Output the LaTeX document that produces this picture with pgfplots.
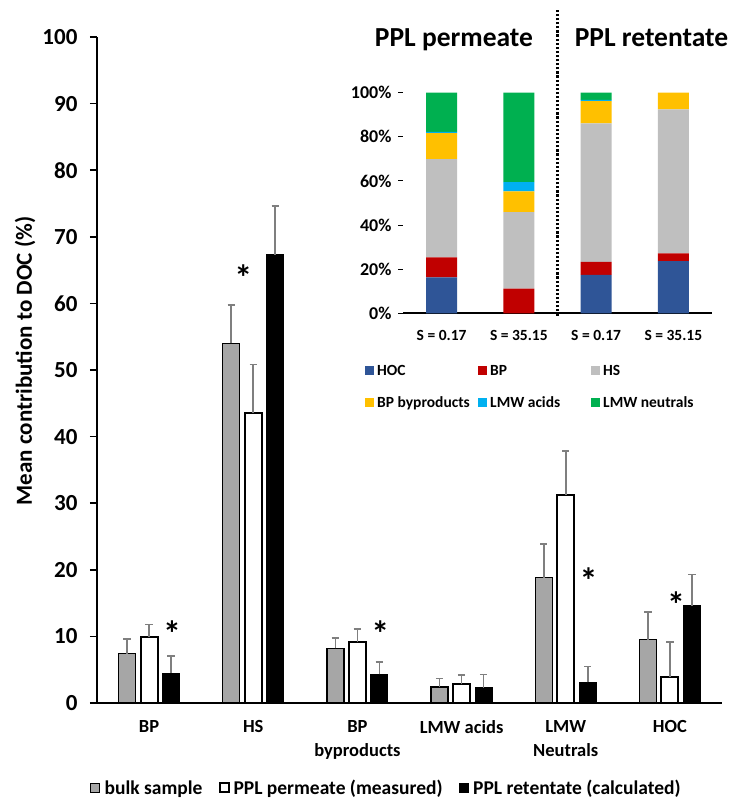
\documentclass[border=0pt]{standalone}
\usepackage{pgfplots}
\pgfplotsset{compat=1.18}
\usepackage{fontspec}
\setmainfont{Carlito}
\definecolor{bulkgray}{HTML}{A6A6A6}
\definecolor{errgray}{HTML}{7F7F7F}
\definecolor{cHOC}{HTML}{2F5597}
\definecolor{cBP}{HTML}{C00000}
\definecolor{cHS}{HTML}{BFBFBF}
\definecolor{cBPB}{HTML}{FFC000}
\definecolor{cLA}{HTML}{00B0F0}
\definecolor{cLN}{HTML}{00B050}
\pgfplotstableread{
x y e
0 7.4 2.2
1 54.0 5.8
2 8.2 1.6
3 2.4 1.3
4 18.8 5.1
5 9.5 4.2
}\bulk
\pgfplotstableread{
x y e
0 9.9 1.9
1 43.6 7.2
2 9.2 1.9
3 2.8 1.4
4 31.2 6.6
5 3.9 5.3
}\perm
\pgfplotstableread{
x y e
0 4.5 2.6
1 67.3 7.3
2 4.3 1.9
3 2.3 2.0
4 3.1 2.4
5 14.6 4.7
}\ret
\pgfplotsset{errs/.style={error bars/.cd, y dir=plus, y explicit,
  error bar style={line width=1.6pt, errgray},
  error mark options={rotate=90, mark size=3.7pt, line width=1.6pt, errgray}}}
\begin{document}
\begin{tikzpicture}[x=1pt,y=1pt]
\useasboundingbox (0,0) rectangle (736,798);
% main chart
\begin{axis}[at={(97pt,95pt)}, anchor=south west, scale only axis,
  width=625pt, height=666pt,
  xmin=-0.5, xmax=5.5, ymin=0, ymax=100,
  ybar=5pt, bar width=17pt,
  axis lines=left, axis line style={-, line width=2pt, black},
  ytick={0,10,...,100}, xtick={0,...,5},
  xticklabels={BP,HS,{BP\\byproducts},LMW acids,{LMW\\Neutrals},HOC},
  xtick style={draw=none},
  ytick style={line width=1.6pt, black},
  tick align=outside, major tick length=7pt,
  /pgf/number format/assume math mode=true,
  yticklabel style={font=\fontsize{23}{23}\selectfont\bfseries, xshift=-9pt},
  xticklabel style={font=\fontsize{18.5}{24}\selectfont\bfseries, align=center, yshift=-7pt},
  ylabel={Mean contribution to DOC (\%)},
  ylabel style={font=\fontsize{23}{23}\selectfont\bfseries, at={(axis description cs:-0.1152,0.5135)}, anchor=center, rotate=0},
  legend columns=3,
  legend style={at={(0.463,-0.1276)}, anchor=center, draw=none, inner sep=0pt,
    font=\fontsize{19.5}{20}\selectfont\bfseries,
    nodes={inner sep=2pt},
    /tikz/every even column/.append style={column sep=14pt}},
  legend image code/.code={\draw[#1] (0pt,-4.5pt) rectangle (9pt,4.5pt); \path[draw=none, fill=none] (0pt,0pt) -- (12pt,0pt);},
  clip=false,
]
\addplot[fill=bulkgray, draw=black, line width=1.2pt, errs] table[x=x, y=y, y error=e]{\bulk};
\addlegendentry{bulk sample}
\addplot[fill=white, draw=black, line width=2pt, errs] table[x=x, y=y, y error=e]{\perm};
\addlegendentry{PPL permeate (measured)}
\addplot[fill=black, draw=black, line width=1pt, errs] table[x=x, y=y, y error=e]{\ret};
\addlegendentry{PPL retentate (calculated)}
\node[font=\fontsize{36}{36}\selectfont\bfseries, yshift=-7pt] at (axis cs:0.22,11.4) {*};
\node[font=\fontsize{36}{36}\selectfont\bfseries, yshift=-7pt] at (axis cs:0.904,64.9) {*};
\node[font=\fontsize{36}{36}\selectfont\bfseries, yshift=-7pt] at (axis cs:2.22,11.5) {*};
\node[font=\fontsize{36}{36}\selectfont\bfseries, yshift=-7pt] at (axis cs:4.22,19.4) {*};
\node[font=\fontsize{36}{36}\selectfont\bfseries, yshift=-7pt] at (axis cs:5.06,15.8) {*};
\end{axis}
% inset
\begin{axis}[at={(403pt,484.7pt)}, anchor=south west, scale only axis,
  width=309pt, height=220.6pt,
  xmin=-0.5, xmax=3.5, ymin=0, ymax=100,
  ybar stacked, bar width=31pt,
  axis x line*=bottom, axis y line*=left,
  x axis line style={-, line width=2pt, black},
  y axis line style={draw=none},
  xtick={0,1,2,3},
  xticklabels={S = 0.17, S = 35.15, S = 0.17, S = 35.15},
  xtick style={draw=none},
  ytick={0,20,...,100},
  yticklabels={0\%,20\%,40\%,60\%,80\%,100\%},
  ytick style={line width=1pt, black},
  tick align=outside, major tick length=5pt,
  yticklabel style={font=\fontsize{18}{18}\selectfont\bfseries, xshift=-3pt},
  xticklabel style={font=\fontsize{15.5}{16}\selectfont\bfseries, yshift=-9pt},
  legend columns=3,
  legend style={at={(-0.123,-0.225)}, anchor=north west, draw=none, inner sep=0pt,
    font=\fontsize{15.5}{16}\selectfont\bfseries, row sep=16pt,
    nodes={inner sep=2pt, anchor=west},
    /tikz/every even column/.append style={column sep=0pt}},
  legend image code/.code={\fill[#1] (0pt,-4.5pt) rectangle (9pt,4.5pt); \path[draw=none, fill=none] (0pt,0pt) -- (10pt,0pt);},
  clip=false,
]
\addplot[fill=cHOC, draw=none] coordinates {(0,16.3) (1,0) (2,17.4) (3,23.7)};
\addlegendentry{\makebox[99pt][l]{HOC}}
\addplot[fill=cBP, draw=none] coordinates {(0,9.1) (1,11.2) (2,5.9) (3,3.5)};
\addlegendentry{\makebox[99pt][l]{BP}}
\addplot[fill=cHS, draw=none] coordinates {(0,44.5) (1,34.7) (2,62.8) (3,65.2)};
\addlegendentry{\makebox[99pt][l]{HS}}
\addplot[fill=cBPB, draw=none] coordinates {(0,11.8) (1,9.4) (2,10.1) (3,7.6)};
\addlegendentry{\makebox[99pt][l]{BP byproducts}}
\addplot[fill=cLA, draw=none] coordinates {(0,0.5) (1,4.2) (2,0.6) (3,0)};
\addlegendentry{\makebox[99pt][l]{LMW acids}}
\addplot[fill=cLN, draw=none] coordinates {(0,17.8) (1,40.5) (2,3.2) (3,0)};
\addlegendentry{\makebox[99pt][l]{LMW neutrals}}
\draw[black, line width=2.4pt, dash pattern=on 2.2pt off 1.9pt] (axis cs:1.5,-1) -- (axis cs:1.5,137.5);
\end{axis}
\node[font=\fontsize{27.5}{28}\selectfont\bfseries, anchor=base] at (454,751) {PPL permeate};
\node[font=\fontsize{27.5}{28}\selectfont\bfseries, anchor=base] at (651.5,751) {PPL retentate};
\end{tikzpicture}
\end{document}
